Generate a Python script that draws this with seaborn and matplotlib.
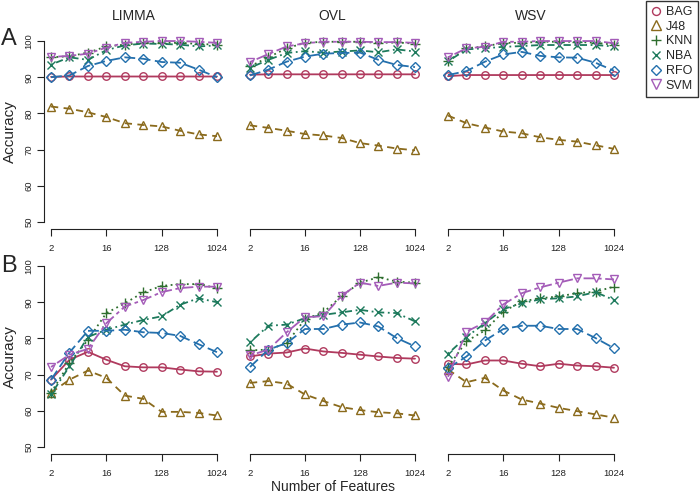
import matplotlib
matplotlib.use("Agg")
import matplotlib.pyplot as plt
from matplotlib.lines import Line2D
import pandas as pd
import seaborn as sns

## Data

features = [2, 4, 8, 16, 32, 64, 128, 256, 512, 1024]
methods = ["BAG", "J48", "KNN", "NBA", "RFO", "SVM"]
selectors = ["LIMMA", "OVL", "WSV"]

# panel A
a_limma = {
    "BAG": [90.1, 90.2, 90.2, 90.2, 90.2, 90.2, 90.2, 90.2, 90.2, 90.2],
    "J48": [81.9, 81.3, 80.3, 79.0, 77.3, 76.8, 76.4, 75.2, 74.2, 73.7],
    "KNN": [95.5, 95.8, 96.8, 98.5, 99.0, 99.5, 99.5, 99.5, 99.2, 99.0],
    "NBA": [93.5, 95.5, 94.8, 97.5, 98.8, 99.3, 99.2, 99.0, 98.5, 98.8],
    "RFO": [90.0, 90.5, 93.1, 94.5, 95.5, 95.1, 94.2, 94.0, 92.1, 90.0],
    "SVM": [95.6, 95.9, 96.5, 98.2, 99.5, 99.8, 100.0, 100.0, 99.8, 99.5],
}
a_ovl = {
    "BAG": [90.7, 90.8, 90.8, 90.8, 90.8, 90.8, 90.8, 90.8, 90.8, 90.8],
    "J48": [76.7, 76.0, 75.2, 74.3, 73.9, 73.2, 71.8, 71.1, 70.3, 69.8],
    "KNN": [93.0, 95.5, 98.0, 99.5, 99.8, 99.8, 99.8, 99.5, 99.6, 99.3],
    "NBA": [92.6, 94.8, 96.7, 97.2, 96.8, 97.1, 97.4, 96.9, 97.7, 97.1],
    "RFO": [90.5, 92.1, 94.3, 95.7, 96.5, 96.7, 96.8, 94.8, 93.4, 92.8],
    "SVM": [94.2, 96.4, 98.5, 99.4, 99.8, 99.8, 99.8, 99.7, 99.7, 99.5],
}
a_wsv = {
    "BAG": [90.3, 90.6, 90.6, 90.6, 90.6, 90.6, 90.6, 90.6, 90.6, 90.6],
    "J48": [79.4, 77.3, 76.1, 75.0, 74.5, 73.4, 72.7, 72.2, 71.2, 70.2],
    "KNN": [94.5, 98.0, 98.5, 99.5, 99.5, 99.8, 99.8, 99.8, 99.5, 99.0],
    "NBA": [94.4, 97.7, 98.0, 98.4, 98.6, 98.9, 98.9, 98.9, 98.9, 98.5],
    "RFO": [90.6, 91.7, 94.3, 96.3, 97.0, 95.9, 95.5, 95.4, 94.0, 91.8],
    "SVM": [95.5, 98.0, 98.4, 99.8, 99.8, 100.0, 100.0, 100.0, 100.0, 99.4],
}

# panel B
b_limma = {
    "BAG": [68.6, 74.1, 76.3, 74.1, 72.3, 72.0, 72.0, 71.4, 70.9, 70.8],
    "J48": [65.0, 68.6, 71.1, 69.1, 64.2, 63.3, 59.7, 59.7, 59.4, 58.7],
    "KNN": [65.0, 73.2, 79.6, 87.0, 89.7, 92.7, 94.5, 95.0, 95.0, 93.9],
    "NBA": [64.5, 72.3, 80.4, 82.4, 83.8, 85.1, 86.1, 89.3, 91.1, 90.0],
    "RFO": [68.6, 76.1, 82.1, 82.1, 82.4, 81.7, 81.5, 80.7, 78.4, 76.2],
    "SVM": [72.1, 75.5, 77.1, 84.2, 88.8, 90.6, 92.8, 93.9, 94.3, 94.3],
}
b_ovl = {
    "BAG": [75.0, 75.8, 76.1, 77.2, 76.4, 76.0, 75.5, 75.0, 74.6, 74.4],
    "J48": [67.7, 68.2, 67.5, 64.5, 62.7, 61.0, 60.2, 59.6, 59.3, 58.7],
    "KNN": [76.7, 76.9, 78.7, 85.3, 87.2, 91.7, 95.4, 96.9, 95.7, 95.4],
    "NBA": [78.9, 83.5, 83.8, 85.6, 86.5, 87.2, 87.9, 87.2, 87.0, 84.7],
    "RFO": [72.1, 76.9, 78.7, 82.6, 82.6, 83.8, 84.4, 83.3, 80.1, 77.8],
    "SVM": [75.3, 76.9, 81.7, 85.9, 86.1, 91.8, 95.4, 94.5, 95.4, 95.2],
}
b_wsv = {
    "BAG": [73.0, 72.8, 73.9, 73.9, 73.0, 72.3, 73.0, 72.5, 72.3, 71.9],
    "J48": [71.4, 67.9, 69.1, 65.6, 63.1, 62.0, 60.8, 59.9, 59.0, 58.1],
    "KNN": [72.1, 79.2, 82.2, 87.4, 90.2, 91.1, 91.6, 92.5, 92.9, 94.3],
    "NBA": [75.8, 80.4, 84.2, 88.1, 89.7, 90.8, 91.1, 91.6, 92.8, 90.6],
    "RFO": [71.8, 75.0, 79.4, 82.6, 83.5, 83.5, 82.6, 82.6, 80.1, 77.3],
    "SVM": [69.4, 81.9, 84.4, 89.4, 92.5, 94.1, 95.4, 96.6, 96.6, 96.3],
}

panels = {("A", "LIMMA"): a_limma, ("A", "OVL"): a_ovl, ("A", "WSV"): a_wsv,
          ("B", "LIMMA"): b_limma, ("B", "OVL"): b_ovl, ("B", "WSV"): b_wsv}

## Style

colors = {"BAG": "#b03a5e", "J48": "#8a6a1c", "KNN": "#2e6e2e",
          "NBA": "#1d7a5c", "RFO": "#2470ad", "SVM": "#a45cb8"}
markers = {"BAG": "o", "J48": "^", "KNN": "+", "NBA": "x", "RFO": "D", "SVM": "v"}
lstyles = {"BAG": "-", "J48": (0, (4, 3)), "KNN": (0, (1, 2)),
           "NBA": (0, (1, 2, 4, 2)), "RFO": (0, (6, 2.5)), "SVM": (0, (2, 2, 6, 2))}
msizes = {"BAG": 5.4, "J48": 6.2, "KNN": 7, "NBA": 6, "RFO": 5.2, "SVM": 6.2}

sns.set_style("white")
plt.rcParams["font.family"] = ["Liberation Sans", "DejaVu Sans"]

W, H = 700, 496
fig = plt.figure(figsize=(7, 4.96), dpi=100)

# axes boxes in pixels: (left, top, right, bottom)
col_px = {"LIMMA": (44.4, 223.6), "OVL": (243.4, 421.6), "WSV": (441.4, 620.6)}
row_px = {"A": (33.8, 229.2), "B": (258.8, 454.2)}

rows = []
for (row, sel), d in panels.items():
    for m in methods:
        for f, v in zip(features, d[m]):
            rows.append({"row": row, "selector": sel, "method": m,
                         "features": f, "accuracy": v})
df = pd.DataFrame(rows)

for row in ["A", "B"]:
    for sel in selectors:
        l, r = col_px[sel]
        t, b = row_px[row]
        ax = fig.add_axes([l / W, 1 - b / H, (r - l) / W, (b - t) / H])
        ax.set_xscale("log", base=2)
        sub = df[(df.row == row) & (df.selector == sel)]
        for m in methods:
            c = colors[m]
            sns.lineplot(data=sub[sub.method == m], x="features", y="accuracy",
                         ax=ax, color=c, marker=markers[m], linestyle=lstyles[m],
                         linewidth=1.3, markersize=msizes[m],
                         markerfacecolor="none", markeredgecolor=c,
                         markeredgewidth=1.0, legend=False)
        ax.set_xlim(2 ** 0.64, 2 ** 10.36)
        ax.set_ylim(48, 102)
        ax.set_xlabel("")
        ax.set_ylabel("")
        ax.set_xticks([2, 16, 128, 1024])
        ax.set_xticklabels(["2", "16", "128", "1024"])
        ax.minorticks_off()
        for s in ["top", "right"]:
            ax.spines[s].set_visible(False)
        ax.spines["bottom"].set_bounds(2, 1024)
        ax.spines["bottom"].set_color("#222222")
        ax.tick_params(axis="x", length=5, width=0.8, pad=6, labelsize=6.8,
                       bottom=True, colors="#222222")
        if sel == "LIMMA":
            ax.spines["left"].set_bounds(50, 100)
            ax.spines["left"].set_color("#222222")
            ax.set_yticks([50, 60, 70, 80, 90, 100])
            ax.tick_params(axis="y", length=5, width=0.8, pad=3, labelsize=6.8,
                           left=True, colors="#222222")
            for lbl in ax.get_yticklabels():
                lbl.set_rotation(90)
                lbl.set_va("center")
            ax.set_ylabel("Accuracy", fontsize=11, labelpad=5)
        else:
            ax.spines["left"].set_visible(False)
            ax.set_yticks([])
        if row == "A":
            ax.set_title(sel, fontsize=10, pad=10)

fig.text(1 / W, 1 - 45 / H, "A", fontsize=17, ha="left", va="baseline")
fig.text(1 / W, 1 - 272 / H, "B", fontsize=17, ha="left", va="baseline")
fig.text(333 / W, 1 - 487 / H, "Number of Features", fontsize=10,
         ha="center", va="center")

handles = [Line2D([], [], linestyle="none", marker=markers[m], color=colors[m],
                  markerfacecolor="none", markersize=msizes[m] + 0.3,
                  markeredgewidth=1.0) for m in methods]
leg = fig.legend(handles, methods, loc="upper right",
                 bbox_to_anchor=(698 / W, 1 - 1 / H), frameon=True,
                 fancybox=False, edgecolor="black", fontsize=9,
                 handlelength=0.8, handletextpad=0.4, labelspacing=0.22,
                 borderpad=0.4, borderaxespad=0)
leg.get_frame().set_linewidth(1.0)

fig.savefig("out.png", dpi=100)
